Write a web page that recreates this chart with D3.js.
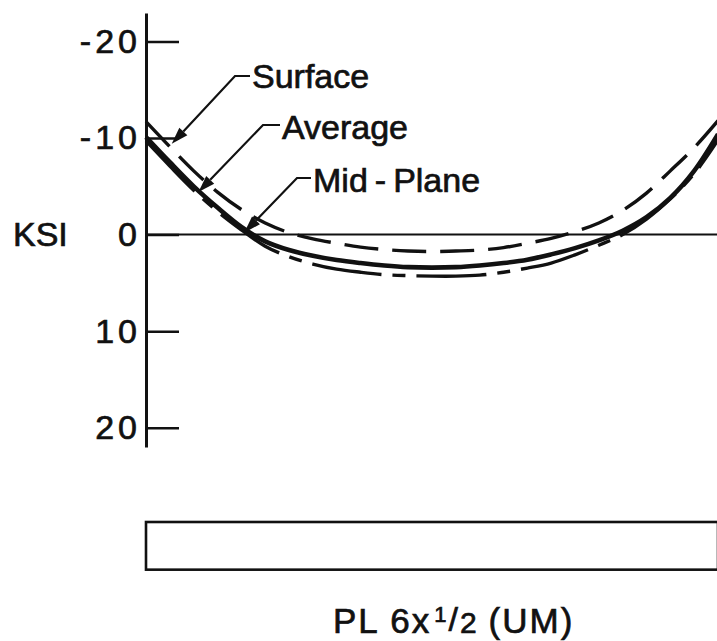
<!DOCTYPE html>
<html>
<head>
<meta charset="utf-8">
<script src="https://cdn.jsdelivr.net/npm/d3@7"></script>
<style>
  html, body { margin: 0; padding: 0; background: #fff; }
  svg { display: block; }
  svg text { stroke: #111; stroke-width: 0.7px; }
</style>
</head>
<body>
<svg id="chart" width="717" height="641"></svg>
<script>
// Position across the plate width (in) and stress (ksi, compression negative)
const positions = [0, 0.25, 0.5, 0.75, 1, 1.25, 1.5, 1.75, 2, 2.25, 2.5, 2.75, 3,
                   3.25, 3.5, 3.75, 4, 4.25, 4.5, 4.75, 5, 5.25, 5.5, 5.75, 6];
const surface  = [-11.7, -9.1, -6.6, -4.4, -2.6, -1.2, -0.2, 0.45, 0.9, 1.3, 1.55, 1.7, 1.76,
                   1.7, 1.6, 1.35, 0.9, 0.4, -0.3, -1.2, -2.5, -4.3, -6.6, -9.0, -11.8];
const average  = [-10.1, -7.5, -5.0, -2.8, -0.8, 0.7, 1.6, 2.2, 2.64, 2.95, 3.2, 3.37, 3.42,
                   3.37, 3.2, 2.95, 2.6, 2.05, 1.4, 0.6, -0.4, -1.8, -3.8, -6.6, -10.4];
const midPlane = [-9.7, -7.1, -4.6, -2.4, -0.5, 1.2, 2.3, 3.05, 3.58, 3.9, 4.15, 4.25, 4.3,
                   4.3, 4.2, 3.9, 3.47, 2.95, 2.1, 1.1, 0.0, -1.6, -3.7, -6.3, -9.8];
const stressTicks = [-20, -10, 0, 10, 20];
const seriesNames = ["Surface", "Average", "Mid-Plane"];
const plateSize = [6, 0.5];   // plate width x thickness (in)

const FONT = "'Liberation Sans', Arial, sans-serif";
const INK = "#111";

const svg = d3.select("#chart");

const x = d3.scaleLinear().domain([0, plateSize[0]]).range([146, 718]);
const y = d3.scaleLinear().domain([-22.95, 22]).range([13, 447]);

// stress axis: ticks pointing into the plot, labels on the left
const axis = d3.axisLeft(y)
  .tickValues(stressTicks)
  .tickSize(-33)
  .tickSizeOuter(0)
  .tickPadding(5)
  .tickFormat(d => String(d));

const gAxis = svg.append("g")
  .attr("transform", `translate(${x(0)},0)`)
  .call(axis)
  .attr("font-family", FONT)
  .attr("font-size", 34);
gAxis.select(".domain").attr("stroke", INK).attr("stroke-width", 3);
gAxis.selectAll(".tick line").attr("stroke", INK).attr("stroke-width", 2.5);
gAxis.selectAll(".tick text")
  .attr("fill", INK)
  .attr("font-size", 34)
  .attr("font-family", FONT)
  .style("letter-spacing", "4px");

svg.append("text")
  .attr("x", 13).attr("y", 246)
  .attr("font-family", FONT).attr("font-size", 34).attr("fill", INK)
  .text("KSI");

// zero stress line
svg.append("line")
  .attr("x1", x(0)).attr("x2", x(plateSize[0]))
  .attr("y1", y(0)).attr("y2", y(0))
  .attr("stroke", INK).attr("stroke-width", 2);

// stress distributions
const series = [
  { name: seriesNames[0], values: surface,  dash: "34,14",          width: 3.4 },
  { name: seriesNames[1], values: average,  dash: null,             width: 4.6 },
  { name: seriesNames[2], values: midPlane, dash: "70,11,13,11",    width: 3.4 }
];

const line = d3.line()
  .x((d, i) => x(positions[i]))
  .y(d => y(d))
  .curve(d3.curveCatmullRom.alpha(0.5));

svg.append("g").selectAll("path")
  .data(series)
  .join("path")
  .attr("d", s => line(s.values))
  .attr("fill", "none")
  .attr("stroke", INK)
  .attr("stroke-width", s => s.width)
  .attr("stroke-dasharray", s => s.dash)
  .attr("stroke-linecap", "butt");

// labels with leader arrows
const callouts = [
  { name: seriesNames[0], label: [252, 88],  elbow: [235, 76],  target: [0.27, -9.4] },
  { name: seriesNames[1], label: [282, 139], elbow: [263, 125], target: [0.55, -4.4] },
  { name: seriesNames[2], label: [313, 192], elbow: [297, 178], target: [1.03, -0.2] }
];

const gCall = svg.append("g");
callouts.forEach(c => {
  const tx = x(c.target[0]), ty = y(c.target[1]);
  const [ex, ey] = c.elbow;
  const len = Math.hypot(ex - tx, ey - ty);
  const ux = (ex - tx) / len, uy = (ey - ty) / len;
  const headL = 17, headW = 5.5;
  const bx = tx + ux * headL, by = ty + uy * headL;

  gCall.append("path")
    .attr("d", `M${c.label[0] - 2},${ey}H${ex}L${bx},${by}`)
    .attr("fill", "none").attr("stroke", INK).attr("stroke-width", 2.2);

  gCall.append("path")
    .attr("d", `M${tx},${ty}L${bx - uy * headW},${by + ux * headW}L${bx + uy * headW},${by - ux * headW}Z`)
    .attr("fill", INK);

  const t = gCall.append("text")
    .attr("x", c.label[0]).attr("y", c.label[1])
    .attr("font-family", FONT).attr("font-size", 34).attr("fill", INK);
  const parts = c.name.split("-");
  if (parts.length > 1) {
    t.append("tspan").text(parts[0]);
    t.append("tspan").attr("dx", 7).text("-");
    t.append("tspan").attr("dx", 7).text(parts[1]);
  } else {
    t.text(c.name);
  }
});

// plate cross-section
svg.append("rect")
  .attr("x", x(0)).attr("y", 522)
  .attr("width", x(plateSize[0]) - x(0))
  .attr("height", x(plateSize[1]) - x(0))
  .attr("fill", "none").attr("stroke", INK).attr("stroke-width", 2.6);

// plate designation
const cap = svg.append("text")
  .attr("x", 333).attr("y", 633)
  .attr("font-family", FONT).attr("font-size", 35).attr("fill", INK)
  .style("letter-spacing", "2px");
cap.append("tspan").text("PL 6x");
cap.append("tspan").attr("font-size", 22).attr("dx", 3).attr("dy", -11).text("1");
cap.append("tspan").attr("font-size", 34).attr("dy", 9).text("/");
cap.append("tspan").attr("font-size", 30).attr("dy", 2).text("2");
cap.append("tspan").attr("dx", 10).text("(UM)");
</script>
</body>
</html>
